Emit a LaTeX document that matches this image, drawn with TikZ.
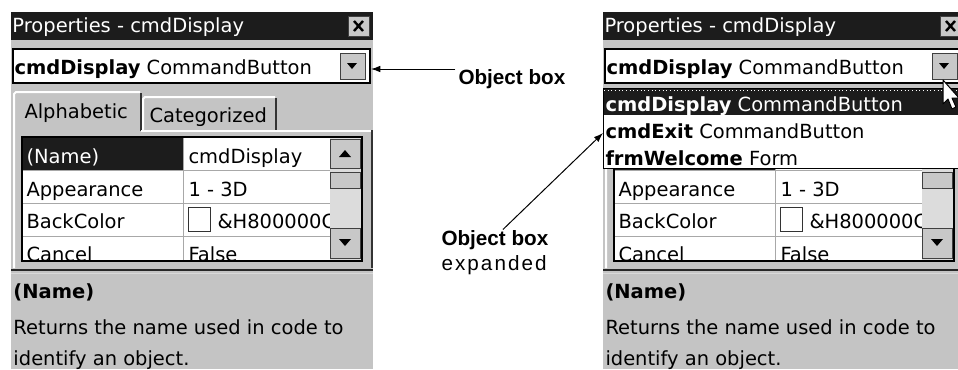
\documentclass[tikz,border=0pt]{standalone}
\usepackage{fontspec}
\setmainfont{Liberation Sans}
\newfontfamily\winfont{DejaVu Sans}
\usetikzlibrary{arrows.meta}

\definecolor{panelgray}{HTML}{C4C4C4}
\definecolor{titledark}{HTML}{1C1C1C}
\definecolor{btngray}{HTML}{C8C8C8}
\definecolor{gridline}{HTML}{A8A8A8}
\definecolor{scrollgray}{HTML}{DCDCDC}

\tikzset{every picture/.style={line width=0.75pt}}
\tikzset{
  wintext/.style={font=\winfont\fontsize{14.6}{17}\selectfont, inner sep=0pt, anchor=base west},
  callout/.style={font=\fontsize{15.5}{18.75}\selectfont, inner sep=0pt, anchor=base west},
  winbtn/.style={fill=btngray, draw=black!75},
  pointer/.style={-{Latex[length=7pt,width=5pt]}},
}

% one properties window, left edge at x=11
% #1=1: tabs and first grid row are visible
\newcommand{\propwin}[1]{%
  %Shape: Rectangle [window body]
  \fill[panelgray] (11,40) rectangle (373,369);
  %Shape: Rectangle [title bar]
  \fill[titledark] (11,12) rectangle (373,40);
  % Text Node
  \node[wintext, text=white] (title) at (12,32) {Properties - cmdDisplay};
  %Shape: Rectangle [close button]
  \draw[winbtn] (348,16) rectangle (369,36);
  \draw[line width=1.8pt] (354,21) -- (363,31) (363,21) -- (354,31);
  %Shape: Rectangle [object box]
  \draw[fill=white, line width=1.5pt] (12.5,48.5) rectangle (369.5,83);
  % Text Node
  \node[wintext] (objbox) at (14,74) {\textbf{cmdDisplay} CommandButton};
  %Shape: Rectangle [drop button]
  \draw[winbtn] (340,53) rectangle (365,79);
  \fill (347,63) -- (357,63) -- (352,69) -- cycle;
  \coordinate (droptip) at (371,69);
  %Straight Lines [tabs]
  \draw[white, line width=1.5pt] (14,268) -- (14,94) -- (16,92) -- (140,92);
  \draw[black!80, line width=1.5pt] (141,93) -- (141,131);
  \draw[white, line width=1.5pt] (143,131) -- (143,99) -- (145,97) -- (275,97);
  \draw[black!80, line width=1.5pt] (276,98) -- (276,131);
  \draw[white, line width=1.5pt] (141,131) -- (371,131);
  \draw[black!80, line width=1.5pt] (372,130) -- (372,268);
  \ifnum#1=1
    % Text Node
    \node[wintext] (tabA) at (24,118) {Alphabetic};
    % Text Node
    \node[wintext] (tabC) at (149,122) {Categorized};
  \fi
  %Shape: Rectangle [grid]
  \fill[white] (22,137) rectangle (362,261);
  \fill[titledark] (22,137) rectangle (183,170);
  \draw[gridline] (22,170) -- (330,170) (22,203) -- (330,203) (22,236) -- (330,236) (183,137) -- (183,261);
  \draw[black!80, fill=white] (188,207) rectangle (210,231);
  \begin{scope}
    \clip (22,137) rectangle (330,259);
    \ifnum#1=1
      \node[wintext, text=white] (pname) at (26,163) {(Name)};
      \node[wintext] (vname) at (188,163) {cmdDisplay};
    \fi
    \node[wintext] (papp) at (26,196) {Appearance};
    \node[wintext] (vapp) at (188,196) {1 - 3D};
    \node[wintext] (pback) at (26,228) {BackColor};
    \node[wintext] (vback) at (217,228) {\&H800000C};
    \node[wintext] (pcancel) at (26,261) {Cancel};
    \node[wintext] (vcancel) at (188,261) {False};
  \end{scope}
  %Shape: Rectangle [scroll bar]
  \fill[scrollgray] (330,138) rectangle (361,260);
  \draw[winbtn] (330,139) rectangle (360,168);
  \fill (339,157) -- (351,157) -- (345,150) -- cycle;
  \draw[winbtn] (330,172) rectangle (360,188);
  \draw[winbtn] (330,228) rectangle (360,258);
  \fill (339,239) -- (351,239) -- (345,246) -- cycle;
  \draw[black, line width=1.5pt] (22,137) rectangle (362,261);
  %Straight Lines [description split]
  \draw[black!85, line width=2pt] (11,270) -- (373,270);
  \draw[white!85!black] (11,273) -- (373,273);
  % Text Node
  \node[wintext] (dhead) at (13,298) {\textbf{(Name)}};
  % Text Node
  \node[wintext] (dline1) at (13,334) {Returns the name used in code to};
  % Text Node
  \node[wintext] (dline2) at (13,365) {identify an object.};
}

\begin{document}
\begin{tikzpicture}[x=0.75pt,y=0.75pt,yscale=-1,xscale=1]
\useasboundingbox (0,0) rectangle (958,369);
\begin{scope}
  \clip (0,0) rectangle (958,369);
  % left window
  \begin{scope}[name prefix=L-]
    \propwin{1}
  \end{scope}
  % right window, list opened
  \begin{scope}[shift={(592,0)}, name prefix=R-]
    \propwin{0}
    %Shape: Rectangle [drop list]
    \draw[black, fill=white] (11,88) rectangle (374,168);
    \fill[titledark] (12,89) rectangle (373,115);
    \draw[white, dotted] (12,90) -- (373,90);
    \node[wintext, text=white] (item1) at (13,111) {\textbf{cmdDisplay} CommandButton};
    \node[wintext] (item2) at (13,138) {\textbf{cmdExit} CommandButton};
    \node[wintext] (item3) at (13,165) {\textbf{frmWelcome} Form};
    \coordinate (listtip) at (11,133);
    %Shape: Polygon [mouse cursor]
    \draw[black, fill=white, line join=round] (351,80) -- (351,104) -- (356,99) -- (360,109) -- (364,107) -- (360,98) -- (367,98) -- cycle;
  \end{scope}
\end{scope}

% Text Node
\node[callout, font=\bfseries\fontsize{15.5}{18.75}\selectfont] (lblTop) at (458,84) {Object box};
% Text Node
\node[callout, font=\bfseries\fontsize{15.5}{18.75}\selectfont] (lblExpA) at (441,245) {Object box};
% Text Node
\node[callout, font=\addfontfeature{LetterSpace=10}\fontsize{15.5}{18.75}\selectfont] (lblExpB) at (441,270) {expanded};

%Straight Lines [arrows]
\draw[pointer] ([xshift=-2pt]lblTop.north west |- L-droptip) -- (L-droptip);
\draw[pointer] ([xshift=6pt]lblExpA.north) -- (R-listtip);
\end{tikzpicture}
\end{document}
